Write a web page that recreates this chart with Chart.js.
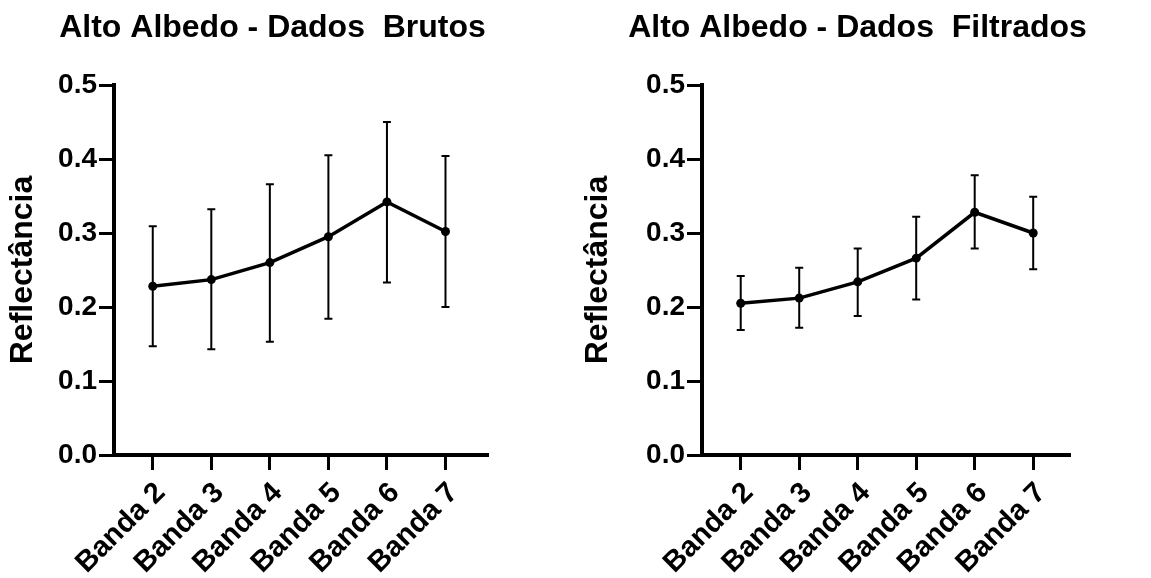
<!DOCTYPE html>
<html>
<head>
<meta charset="utf-8">
<script src="https://cdn.jsdelivr.net/npm/chart.js@4"></script>
<style>
  html, body { margin: 0; padding: 0; background: #fff; }
  #wrap { position: relative; width: 1151px; height: 578px; }
  canvas { position: absolute; top: 0; }
</style>
</head>
<body>
<div id="wrap">
  <canvas id="rawChart" width="575" height="578" style="left:0"></canvas>
  <canvas id="filteredChart" width="576" height="578" style="left:575px"></canvas>
</div>
<script>
// Categories and tick labels
const bandLabels = ['Banda 2', 'Banda 3', 'Banda 4', 'Banda 5', 'Banda 6', 'Banda 7'];
const yTicks = [0, 0.1, 0.2, 0.3, 0.4, 0.5];

// Raw data (mean, lower and upper whisker)
const rawMean = [0.228, 0.237, 0.260, 0.295, 0.342, 0.302];
const rawLow  = [0.147, 0.143, 0.153, 0.184, 0.233, 0.200];
const rawHigh = [0.309, 0.332, 0.366, 0.405, 0.450, 0.404];

// Filtered data
const filtMean = [0.205, 0.212, 0.234, 0.266, 0.328, 0.300];
const filtLow  = [0.169, 0.172, 0.188, 0.210, 0.279, 0.251];
const filtHigh = [0.242, 0.253, 0.279, 0.322, 0.378, 0.349];

const FONT = '"Liberation Sans", Arial, sans-serif';
Chart.defaults.color = '#000';
Chart.defaults.font.family = FONT;

// Error bars drawn from the chart's own scales
const errorBars = {
  id: 'errorBars',
  beforeDatasetsDraw(chart, args, opts) {
    const { ctx, scales: { x, y } } = chart;
    ctx.save();
    ctx.strokeStyle = '#000';
    ctx.lineWidth = 2;
    opts.low.forEach((lo, i) => {
      const px = x.getPixelForValue(i + 1);
      const top = y.getPixelForValue(opts.high[i]);
      const bot = y.getPixelForValue(lo);
      ctx.beginPath();
      ctx.moveTo(px, top); ctx.lineTo(px, bot);
      ctx.moveTo(px - 4, top); ctx.lineTo(px + 4, top);
      ctx.moveTo(px - 4, bot); ctx.lineTo(px + 4, bot);
      ctx.stroke();
    });
    ctx.restore();
  }
};

// Title placed relative to the plot area
const plotTitle = {
  id: 'plotTitle',
  afterDraw(chart, args, opts) {
    const { ctx, chartArea } = chart;
    ctx.save();
    ctx.font = 'bold 32px ' + FONT;
    ctx.fillStyle = '#000';
    ctx.textAlign = 'center';
    ctx.textBaseline = 'alphabetic';
    ctx.fillText(opts.text, (chartArea.left + chartArea.right) / 2 - 28, 37);
    ctx.restore();
  }
};

function makeChart(id, title, mean, low, high, yWidth, padRight, xMax) {
  return new Chart(document.getElementById(id), {
    type: 'line',
    data: {
      datasets: [{
        data: mean.map((v, i) => ({ x: i + 1, y: v })),
        borderColor: '#000',
        borderWidth: 3.5,
        tension: 0,
        pointRadius: 4.5,
        pointBackgroundColor: '#000',
        pointBorderWidth: 0
      }]
    },
    options: {
      responsive: false,
      animation: false,
      layout: { padding: { top: 85, right: padRight, bottom: 0, left: 0 } },
      plugins: {
        legend: { display: false },
        tooltip: { enabled: false },
        errorBars: { low: low, high: high },
        plotTitle: { text: title }
      },
      scales: {
        x: {
          type: 'linear',
          min: 0.338,
          max: xMax,
          afterBuildTicks: s => { s.ticks = bandLabels.map((_, i) => ({ value: i + 1 })); },
          afterFit: s => { s.height = 123; },
          border: { color: '#000', width: 4 },
          grid: { drawOnChartArea: false, tickLength: 15, lineWidth: 3, color: '#000' },
          ticks: {
            autoSkip: false,
            minRotation: 45,
            maxRotation: 45,
            padding: 6,
            labelOffset: 8,
            font: { size: 29, weight: 'bold' },
            callback: v => bandLabels[v - 1]
          }
        },
        y: {
          min: 0,
          max: 0.5,
          afterBuildTicks: s => { s.ticks = yTicks.map(v => ({ value: v })); },
          afterFit: s => { s.width = yWidth; },
          border: { color: '#000', width: 4 },
          grid: { drawOnChartArea: false, tickLength: 15, lineWidth: 3, color: '#000' },
          title: {
            display: true,
            text: 'Reflectância',
            font: { size: 32, weight: 'bold' },
            padding: { top: 4, bottom: 0 }
          },
          ticks: {
            padding: 2,
            font: { size: 28, weight: 'bold' },
            callback: v => v.toFixed(1)
          }
        }
      }
    },
    plugins: [errorBars, plotTitle]
  });
}

makeChart('rawChart', 'Alto Albedo - Dados  Brutos', rawMean, rawLow, rawHigh, 114, 88, 6.709);
makeChart('filteredChart', 'Alto Albedo - Dados  Filtrados', filtMean, filtLow, filtHigh, 127, 82, 6.612);
</script>
</body>
</html>
